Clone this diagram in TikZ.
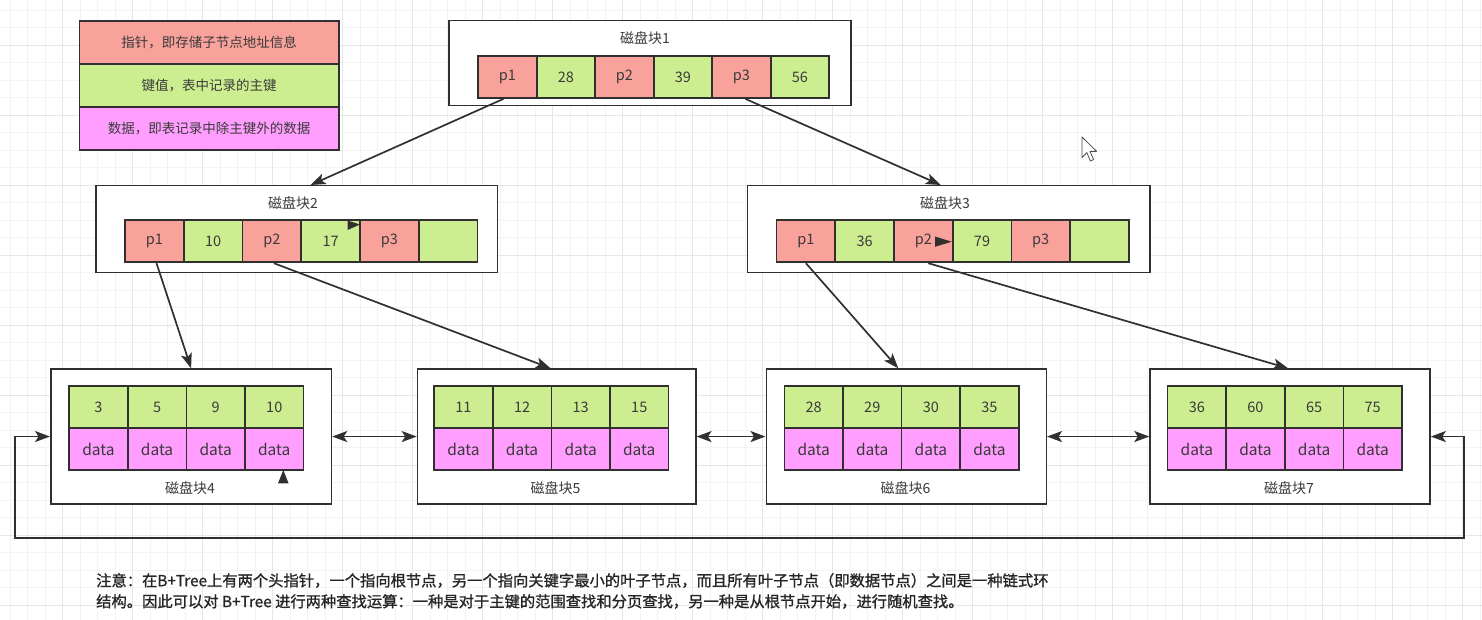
\documentclass[tikz,border=0pt]{standalone}
\usepackage{fontspec}
\newfontfamily\cjk{Noto Sans CJK SC}
\newfontfamily\cjkbold[FakeBold=1.1]{Noto Sans CJK SC}
\usetikzlibrary{arrows.meta,calc}
\definecolor{ptrred}{HTML}{F9A29C}
\definecolor{keygreen}{HTML}{CCEE91}
\definecolor{datapink}{HTML}{FF9EFF}
\definecolor{inkline}{HTML}{303030}
\definecolor{inktext}{HTML}{3A3A3A}
\definecolor{gridminor}{HTML}{F3F3F3}
\definecolor{gridmajor}{HTML}{E6E6E6}
\tikzset{tipshape/.tip={Stealth[length=15pt,width=11pt,inset=3.5pt]}}
\begin{document}
\begin{tikzpicture}[x=1pt,y=-1pt,
  cellbox/.style={draw=inkline,line width=1.7pt,inner sep=0pt,anchor=north west,text=inktext,font=\cjk\fontsize{14.5}{16}\selectfont},
  ptr/.style={cellbox,fill=ptrred},
  keyc/.style={cellbox,fill=keygreen},
  datc/.style={cellbox,fill=datapink,font=\cjk\fontsize{15.5}{17}\selectfont},
  innercell/.style={minimum width=58.7pt,minimum height=42.2pt},
  leafcell/.style={minimum width=58.6pt,minimum height=42.2pt},
  blockbox/.style={draw=inkline,line width=1.5pt,fill=white,inner sep=0pt,anchor=north west},
  blocktitle/.style={text=inktext,font=\cjk\fontsize{14}{15}\selectfont,inner sep=0pt},
  legendbox/.style={draw=inkline,line width=1.7pt,inner sep=0pt,anchor=north west,minimum width=259.5pt,minimum height=43pt,text=inktext,font=\cjk\fontsize{13.5}{15}\selectfont},
  conn/.style={draw=inkline,line width=1.7pt,-{tipshape}},
  biconn/.style={draw=inkline,line width=1.7pt,{tipshape}-{tipshape}},
  notetext/.style={anchor=west,inner sep=0pt,text=black!85,font=\cjkbold\fontsize{15.3}{17}\selectfont}
]
\useasboundingbox (0,0) rectangle (1482,620);
\fill[white] (0,0) rectangle (1482,620);
% background grid
\foreach \k [evaluate=\k as \xx using 10+17.5*\k] in {0,...,84} {\draw[gridminor,line width=0.8pt] (\xx,0) -- (\xx,620);}
\foreach \k [evaluate=\k as \yy using 10+17.5*\k] in {0,...,35} {\draw[gridminor,line width=0.8pt] (0,\yy) -- (1482,\yy);}
\foreach \k [evaluate=\k as \xx using 62.5+70*\k] in {0,...,20} {\draw[gridmajor,line width=0.9pt] (\xx,0) -- (\xx,620);}
\foreach \k [evaluate=\k as \yy using 45+70*\k] in {0,...,8} {\draw[gridmajor,line width=0.9pt] (0,\yy) -- (1482,\yy);}

% legend
\node[legendbox,fill=ptrred] (lg1) at (78.5,20) {指针，即存储子节点地址信息};
\node[legendbox,fill=keygreen] (lg2) at (78.5,63) {键值，表中记录的主键};
\node[legendbox,fill=datapink] (lg3) at (78.5,106) {数据，即表记录中除主键外的数据};

% block 1 (root)
\node[blockbox,minimum width=402pt,minimum height=85pt] (b1) at (448,20) {};
\node[blocktitle] (t1) at (645,38.5) {磁盘块1};
\node[ptr,innercell,minimum width=58.5pt] (r1) at (477.3,55) {p1};
\node[keyc,innercell,minimum width=58.5pt] (r2) at (535.8,55) {28};
\node[ptr,innercell,minimum width=58.5pt] (r3) at (594.3,55) {p2};
\node[keyc,innercell,minimum width=58.5pt] (r4) at (652.8,55) {39};
\node[ptr,innercell,minimum width=58.5pt] (r5) at (711.3,55) {p3};
\node[keyc,innercell,minimum width=58.5pt] (r6) at (769.8,55) {56};

% block 2
\node[blockbox,minimum width=401.7pt,minimum height=86.7pt] (b2) at (95,185) {};
\node[blocktitle] (t2) at (293,203.5) {磁盘块2};
\node[ptr,innercell] (a1) at (124.3,219.3) {p1};
\node[keyc,innercell] (a2) at (183.0,219.3) {10};
\node[ptr,innercell] (a3) at (241.7,219.3) {p2};
\node[keyc,innercell] (a4) at (300.4,219.3) {17};
\node[ptr,innercell] (a5) at (359.1,219.3) {p3};
\node[keyc,innercell] (a6) at (417.8,219.3) {};

% block 3
\node[blockbox,minimum width=402.6pt,minimum height=86.7pt] (b3) at (746.7,185) {};
\node[blocktitle] (t3) at (945,203.5) {磁盘块3};
\node[ptr,innercell] (c1) at (775.7,219.3) {p1};
\node[keyc,innercell] (c2) at (834.4,219.3) {36};
\node[ptr,innercell] (c3) at (893.1,219.3) {p2};
\node[keyc,innercell] (c4) at (951.8,219.3) {79};
\node[ptr,innercell] (c5) at (1010.5,219.3) {p3};
\node[keyc,innercell] (c6) at (1069.2,219.3) {};

% leaf blocks
\node[blockbox,minimum width=280.7pt,minimum height=135pt] (b4) at (50,368.3) {};
\node[blockbox,minimum width=278.3pt,minimum height=135pt] (b5) at (416.7,368.3) {};
\node[blockbox,minimum width=280pt,minimum height=135pt] (b6) at (765.5,368.3) {};
\node[blockbox,minimum width=280pt,minimum height=135pt] (b7) at (1149.3,368.3) {};
\node[blocktitle] (t4) at (190,488) {磁盘块4};
\node[blocktitle] (t5) at (555.5,488) {磁盘块5};
\node[blocktitle] (t6) at (905.5,488) {磁盘块6};
\node[blocktitle] (t7) at (1289,488) {磁盘块7};
\foreach \bx/\blk/\ka/\kb/\kc/\kd in {68.3/4/3/5/9/10, 433.3/5/11/12/13/15, 783.5/6/28/29/30/35, 1166.7/7/36/60/65/75} {
  \foreach \kk [count=\i from 0] in {\ka,\kb,\kc,\kd} {
    \node[keyc,leafcell] (k\blk\i) at (\bx+58.6*\i,385) {\kk};
    \node[datc,leafcell,minimum height=42pt] (d\blk\i) at (\bx+58.6*\i,427.3) {data};
  }
}

% tree connectors
\draw[conn] ([xshift=-4pt]r1.south) -- ([xshift=14pt]b2.north);
\draw[conn] ([xshift=4pt]r5.south) -- ([xshift=-8pt]b3.north);
\draw[conn] ([xshift=2pt]a1.south) -- (b4.north);
\draw[conn] ([xshift=2pt]a3.south) -- ([xshift=-6pt]b5.north);
\draw[conn] (c1.south) -- ([xshift=-8pt]b6.north);
\draw[conn] ([xshift=5pt]c3.south) -- ([xshift=-2pt]b7.north);

% leaf links
\draw[biconn] (b4.east) -- (b5.west);
\draw[biconn] (b5.east) -- (b6.west);
\draw[biconn] (b6.east) -- (b7.west);
\coordinate (loopr) at (1464,538.3);
\coordinate (loopl) at (15,538.3);
\draw[biconn] (b7.east) -- (b7.east -| loopr) -- (loopr) -- (loopl) -- (loopl |- b4.west) -- (b4.west);

% stray arrowheads visible in the screenshot
\fill[inkline] (360,224.5) -- (347.5,220.5) -- (347.5,230) -- cycle;
\fill[inkline] (951.7,241.7) -- (935,236.5) -- (935,246.8) -- cycle;
\fill[inkline] (283.3,470) -- (278,483.3) -- (288.6,483.3) -- cycle;

% mouse cursor
\draw[fill=white,draw=black!70,line width=0.8pt,line join=round]
  (1082,137) -- (1082,157.5) -- (1086.8,152.6) -- (1090.4,161) -- (1093.6,159.6) -- (1090,151.4) -- (1096.6,151.4) -- cycle;

% note
\node[notetext] (n1) at (96,580.5) {注意：在B+Tree上有两个头指针，一个指向根节点，另一个指向关键字最小的叶子节点，而且所有叶子节点（即数据节点）之间是一种链式环};
\node[notetext] (n2) at (96,601.5) {结构。因此可以对 B+Tree 进行两种查找运算：一种是对于主键的范围查找和分页查找，另一种是从根节点开始，进行随机查找。};
\end{tikzpicture}
\end{document}
